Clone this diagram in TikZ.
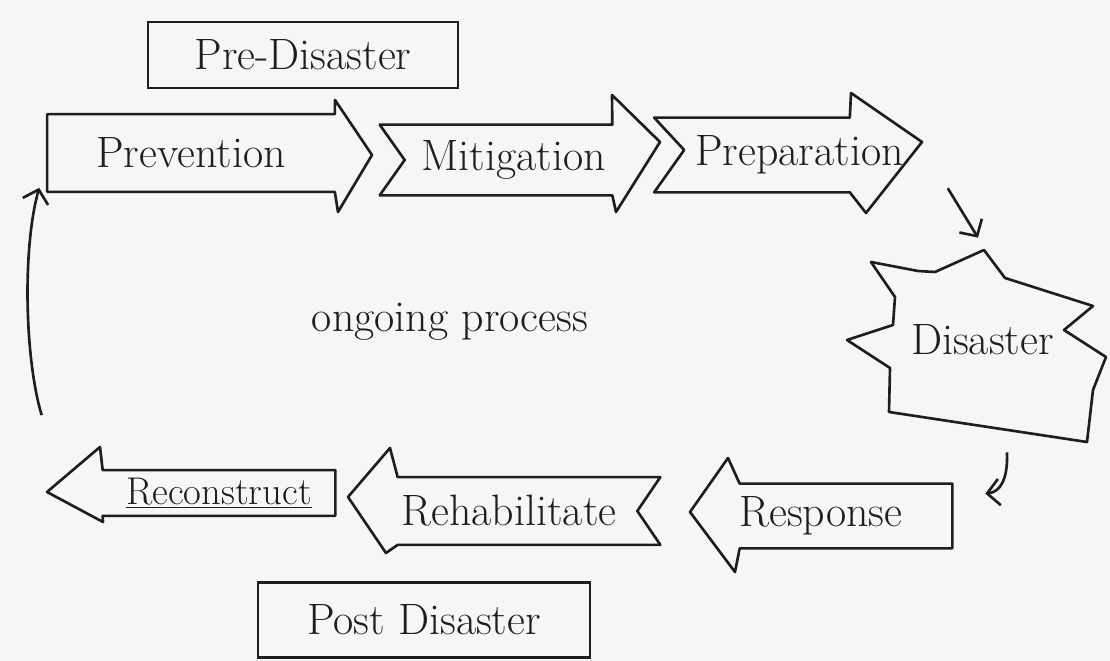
\documentclass[tikz,border=0pt]{standalone}
\usepackage{fontspec}
\usetikzlibrary{arrows.meta,calc}
\definecolor{paper}{HTML}{F6F6F4}
\definecolor{ink}{HTML}{1E1E1E}

\begin{document}
\begin{tikzpicture}[x=0.02cm,y=-0.02cm,
  outl/.style={draw=ink,line width=1.5pt,line join=round},
  body/.style={inner sep=0pt,text=ink,font=\fontsize{25}{30}\selectfont},
  tag/.style={draw=ink,line width=1.5pt,inner sep=0pt,text=ink,
              font=\fontsize{25}{30}\selectfont},
  conn/.style={draw=ink,line width=1.5pt,
               -{Straight Barb[length=7pt,width=15pt]}}
]
\fill[paper] (0,0) rectangle (1110,661);
\useasboundingbox (0,0) rectangle (1110,661);

% ---- Pre-disaster phase -------------------------------------
\node[tag,minimum width=6.2cm,minimum height=1.32cm] (pre) at (303,55) {Pre-Disaster};

\node[body,minimum width=5.74cm,minimum height=1.54cm] (prev) at (191,153) {Prevention};
\draw[outl] (prev.north west) -- (prev.north east) -- (335,100) -- (372,155)
  -- (338,212) -- (prev.south east) -- (prev.south west) -- cycle;

\node[body,minimum width=4.64cm,minimum height=1.4cm] (miti) at (496,160)
  {\makebox[0pt]{\hspace{0.7cm}Mitigation}};
\draw[outl] (miti.north west) -- (miti.north east) -- (612,95) -- (660,142)
  -- (616,212) -- (miti.south east) -- (miti.south west)
  -- ($(miti.west)+(25,0)$) -- cycle;

\node[body,minimum width=3.9cm,minimum height=1.48cm] (prep) at (752,155)
  {\makebox[0pt]{\hspace{1.9cm}Preparation}};
\draw[outl] (prep.north west) -- (prep.north east) -- (851,93) -- (922,142)
  -- (866,213) -- (prep.south east) -- (prep.south west)
  -- ($(prep.west)+(30,-5)$) -- cycle;

% ---- Disaster -----------------------------------------------
\node[body,minimum width=4cm,minimum height=3cm] (dis) at (995,340)
  {\makebox[0pt]{Disaster\hspace{0.5cm}}};
\draw[outl] (871,262) -- (918,271) -- (935,272) -- (984,250) -- (1005,278)
  -- (1093,306) -- (1064,330) -- (1106,357) -- (1093,390) -- (1087,442)
  -- (889,412) -- (890,368) -- (847,340) -- (893,325) -- (895,297) -- cycle;

\node[body] (ongo) at (450,322) {ongoing process};

% ---- Post-disaster phase ------------------------------------
\node[body,minimum width=4.24cm,minimum height=1.28cm] (resp) at (846,516)
  {\makebox[0pt]{Response\hspace{1cm}}};
\draw[outl] (resp.north east) -- (resp.north west) -- (728,458) -- (690,512)
  -- (735,572) -- (resp.south west) -- (resp.south east) -- cycle;

\node[body,minimum width=5.24cm,minimum height=1.34cm] (rehab) at (529,511)
  {\makebox[0pt]{Rehabilitate\hspace{0.8cm}}};
\draw[outl] (rehab.north east) -- (rehab.north west) -- (390,448) -- (348,497)
  -- (386,553) -- (rehab.south west) -- (rehab.south east)
  -- ($(rehab.east)+(-23,0)$) -- cycle;

\node[body,minimum width=4.64cm,minimum height=0.9cm,font=\fontsize{22}{26}\selectfont]
  (recon) at (219,493) {\underline{Reconstruct}};
\draw[outl] (recon.north east) -- (recon.north west) -- (100,447) -- (47,492)
  -- (103,522) -- (recon.south west) -- (recon.south east) -- cycle;

\node[tag,minimum width=6.64cm,minimum height=1.5cm] (post) at (424,620) {Post Disaster};

% ---- Cycle connectors ---------------------------------------
\draw[conn] ($(prep.south east)+(98,-4)$) -- ($(dis.north)+(-17,-27)$);
\draw[conn] ($(dis.south)+(12,37)$) .. controls (1008,480) and (1000,492)
  .. ($(resp.north east)+(33,10)$);
\draw[conn] ($(recon.north west)+(-61,-55)$) .. controls (25,360) and (22,250)
  .. ($(prev.south west)+(-8,-4)$);

\end{tikzpicture}
\end{document}
